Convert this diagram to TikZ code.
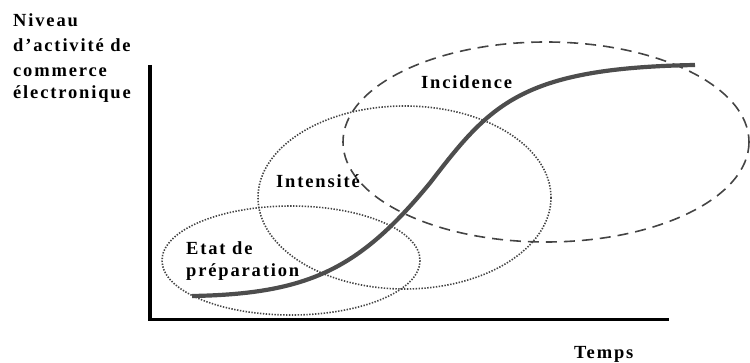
\documentclass[tikz,border=0pt]{standalone}
\usepackage{fontspec}
\newfontfamily\lblfont[LetterSpace=10]{Liberation Serif}
\definecolor{edgegray}{HTML}{444444}
\definecolor{curvegray}{HTML}{4D4D4D}
\tikzset{
  lbl/.style={font=\lblfont\bfseries\fontsize{18.5}{22}\selectfont, inner sep=0pt, anchor=base west, text=black},
  axisline/.style={line width=3.2pt, black},
  dotring/.style={draw=edgegray, line width=1.6pt, dash pattern=on 1.4pt off 1.5pt},
  dashring/.style={draw=edgegray, line width=1.6pt, dash pattern=on 11pt off 7pt},
  scurve/.style={draw=curvegray, line width=4.2pt, line cap=butt}
}
\begin{document}
\begin{tikzpicture}[x=1pt,y=-1pt]
\useasboundingbox (0,0) rectangle (750,363);
% axes
\coordinate (ytop) at (150,65);
\coordinate (origin) at (150,319.5);
\coordinate (xend) at (669,319.5);
\draw[axisline] (ytop) -- (origin) -- (xend);
% ellipses
\draw[dotring] (291,260.5) ellipse [x radius=129, y radius=54.5];
\draw[dotring] (404.5,197.5) ellipse [x radius=146.5, y radius=91.5];
\draw[dashring] (546,142) ellipse [x radius=203, y radius=100];
% S-curve
\coordinate (cstart) at (192,296);
\coordinate (cmid) at (430,183);
\coordinate (cend) at (695,65);
\draw[scurve] (cstart) .. controls (310,294) and (360,268) .. (cmid)
  .. controls (490,105) and (520,68) .. (cend);
% labels
\node[lbl] (l1) at (13,26.7) {Niveau};
\node[lbl] (l2) at (13,51.5) {d’activité de};
\node[lbl] (l3) at (13,76.5) {commerce};
\node[lbl] (l4) at (13,99) {électronique};
\node[lbl] (inten) at (276,188) {Intensité};
\node[lbl] (etat1) at (186,255) {Etat de};
\node[lbl] (etat2) at (186,277) {préparation};
\node[lbl] (incid) at (421,88.7) {Incidence};
\node[lbl] (temps) at (574,359) {Temps};
\end{tikzpicture}
\end{document}
